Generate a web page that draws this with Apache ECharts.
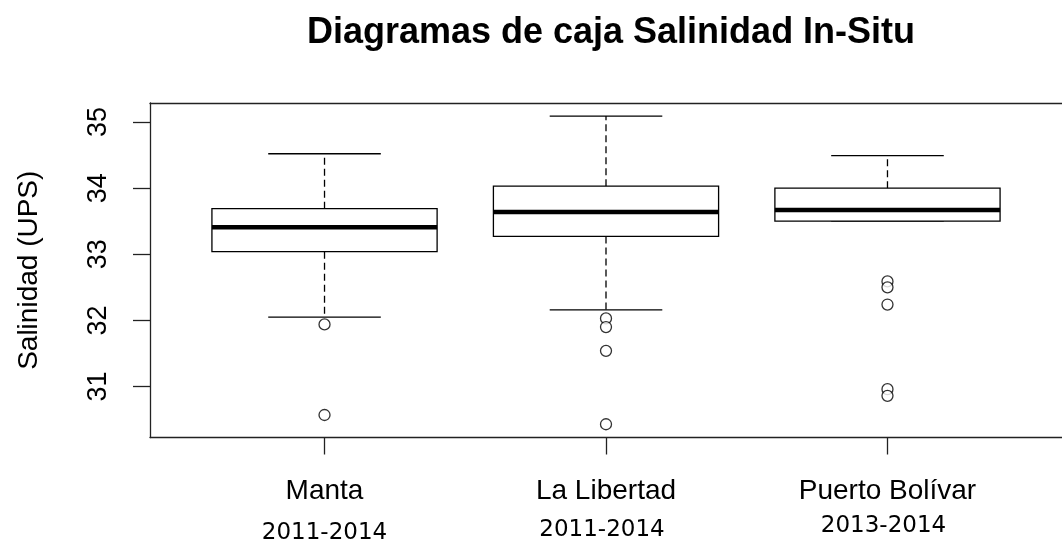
<!DOCTYPE html>
<html><head><meta charset="utf-8">
<script src="https://cdn.jsdelivr.net/npm/echarts@6/dist/echarts.min.js"></script>
<style>html,body{margin:0;padding:0;background:#fff}#c{width:1062px;height:545px}</style>
</head><body><div id="c"></div>
<script>
const categories = ['Manta', 'La Libertad', 'Puerto Bolívar'];
const periods = ['2011-2014', '2011-2014', '2013-2014'];
const lowerWhisker = [32.05, 32.16, 33.50];
const q1 = [33.04, 33.27, 33.50];
const median = [33.41, 33.64, 33.67];
const q3 = [33.69, 34.03, 34.00];
const upperWhisker = [34.52, 35.09, 34.49];
const outliersManta = [31.94, 30.57];
const outliersLaLibertad = [32.03, 31.90, 31.54, 30.43];
const outliersPuertoBolivar = [32.59, 32.50, 32.24, 30.96, 30.86];
const yTicks = [31, 32, 33, 34, 35];
const xTicks = [1, 2, 3];

const boxData = categories.map((c, i) => [i + 1, lowerWhisker[i], q1[i], median[i], q3[i], upperWhisker[i]]);
const outlierData = [];
[outliersManta, outliersLaLibertad, outliersPuertoBolivar].forEach((arr, i) =>
  arr.forEach(v => outlierData.push([i + 1, v])));

const INK = '#000';
const FRAME = { color: '#222', width: 1.3 };
function renderBox(params, api) {
  const x = api.value(0);
  const lo = api.value(1), a = api.value(2), m = api.value(3), b = api.value(4), hi = api.value(5);
  const half = 0.4, cap = 0.2;
  const tl = api.coord([x - half, b]);
  const br = api.coord([x + half, a]);
  const line = (p1, p2, style) => ({
    type: 'line',
    shape: { x1: p1[0], y1: p1[1], x2: p2[0], y2: p2[1] },
    style: Object.assign({ stroke: INK, lineWidth: 1.3 }, style || {})
  });
  return {
    type: 'group',
    children: [
      line(api.coord([x, b]), api.coord([x, hi]), { lineDash: [7, 4] }),
      line(api.coord([x, a]), api.coord([x, lo]), { lineDash: [7, 4] }),
      line(api.coord([x - cap, hi]), api.coord([x + cap, hi])),
      line(api.coord([x - cap, lo]), api.coord([x + cap, lo])),
      {
        type: 'rect',
        shape: { x: tl[0], y: tl[1], width: br[0] - tl[0], height: br[1] - tl[1] },
        style: { fill: '#fff', stroke: INK, lineWidth: 1.3 }
      },
      line(api.coord([x - half, m]), api.coord([x + half, m]), { lineWidth: 4.5 })
    ]
  };
}

const chart = echarts.init(document.getElementById('c'), null, { renderer: 'canvas' });
chart.setOption({
  backgroundColor: '#fff',
  animation: false,
  title: {
    text: 'Diagramas de caja Salinidad In-Situ',
    left: 606, top: 10, textAlign: 'center',
    textStyle: { fontFamily: 'Liberation Sans', fontWeight: 'bold', fontSize: 36, color: '#000' }
  },
  grid: { left: 150, top: 103, width: 923, height: 335, show: false },
  xAxis: [{
    type: 'value', min: 0.38, max: 3.62,
    splitLine: { show: false },
    axisLine: { show: true, onZero: false, lineStyle: FRAME },
    axisTick: { show: true, customValues: xTicks, length: 17, lineStyle: FRAME },
    axisLabel: {
      customValues: xTicks, margin: 33,
      formatter: v => { const i = Math.round(v) - 1; return '{a|' + categories[i] + '}\n{b' + i + '|' + periods[i] + '}'; },
      rich: {
        a: { fontFamily: 'Liberation Sans', fontSize: 28, lineHeight: 42, color: '#000' },
        b0: { fontFamily: 'DejaVu Sans', fontSize: 23, lineHeight: 42, color: '#000' },
        b1: { fontFamily: 'DejaVu Sans', fontSize: 23, lineHeight: 36, color: '#000', padding: [0, 8, 0, 0] },
        b2: { fontFamily: 'DejaVu Sans', fontSize: 23, lineHeight: 28, color: '#000', padding: [0, 8, 0, 0] }
      }
    }
  }, {
    type: 'value', position: 'top', min: 0.38, max: 3.62,
    splitLine: { show: false },
    axisLine: { show: true, onZero: false, lineStyle: FRAME },
    axisTick: { show: false },
    axisLabel: { show: false }
  }],
  yAxis: {
    type: 'value', min: 30.23, max: 35.287,
    name: 'Salinidad (UPS)', nameLocation: 'middle', nameGap: 107,
    nameTextStyle: { fontFamily: 'Liberation Sans', fontSize: 28, color: '#000' },
    splitLine: { show: false },
    axisLine: { show: true, onZero: false, lineStyle: FRAME },
    axisTick: { show: true, customValues: yTicks, length: 17, lineStyle: FRAME },
    axisLabel: { customValues: yTicks, rotate: 90, margin: 38, fontFamily: 'Liberation Sans', fontSize: 27, color: '#000' }
  },
  series: [
    { type: 'custom', renderItem: renderBox, data: boxData, encode: { x: 0, y: [1, 2, 3, 4, 5] }, z: 2 },
    {
      type: 'scatter', data: outlierData, symbol: 'circle', symbolSize: 11, z: 3,
      itemStyle: { color: '#fff', borderColor: INK, borderWidth: 1.3 }
    }
  ]
});
</script></body></html>
